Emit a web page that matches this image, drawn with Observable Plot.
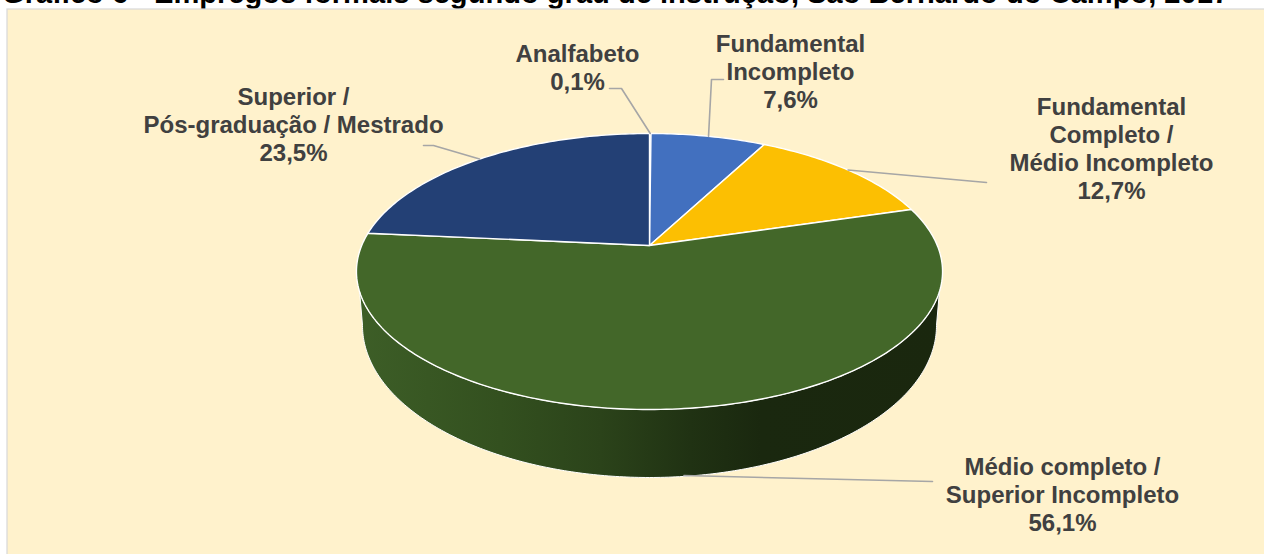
<!DOCTYPE html>
<html lang="pt">
<head>
<meta charset="utf-8">
<script src="https://cdn.jsdelivr.net/npm/d3@7"></script>
<script src="https://cdn.jsdelivr.net/npm/@observablehq/plot@0.6"></script>
<style>html,body{margin:0;padding:0;background:#fff}svg{display:block}</style>
</head>
<body>
<div id="chart"></div>
<script>
// ---- data ----
const titleText = "Gráfico 6 - Empregos formais segundo grau de instrução, São Bernardo do Campo, 2017";
const categories = ["Analfabeto", "Fundamental\nIncompleto", "Fundamental\nCompleto /\nMédio Incompleto", "Médio completo /\nSuperior Incompleto", "Superior /\nPós-graduação / Mestrado"];
const shares = [0.1, 7.6, 12.7, 56.1, 23.5];
const sliceColors = ["#4472c4", "#4270bf", "#fcbf02", "#436729", "#234075"];
// ---- label layout (px space of the x/y scales) ----
const labelX = [577, 790, 1111, 1062, 293];
const labelY = [67, 71, 148, 494, 124];
const leaderElbows = [
  [[621, 88], [609, 88]],
  [[711, 79], [723, 79]],
  [[975, 181], [986, 182]],
  [[932, 481]],
  [[433, 145], [423, 145]]
];

const W = 1264, H = 554;
// perspective projection of the pie disc
const cx = 649, apexY = 245, A = 287.8, B = 133.1, K = 0.1885;
const project = (theta) => {
  const X = Math.sin(theta), Y = Math.cos(theta), w = 1 + K * Y;
  return [cx + A * X / w, apexY - B * Y / w];
};
const total = d3.sum(shares);
let running = 0;
const slices = shares.map((v, i) => {
  const a0 = running / total * 2 * Math.PI;
  running += v;
  const a1 = running / total * 2 * Math.PI;
  return {i, a0, a1, mid: (a0 + a1) / 2, value: v};
});
const slicePoints = slices.flatMap((s) => {
  const n = Math.max(2, Math.ceil((s.a1 - s.a0) * 60));
  const pts = [{i: s.i, p: [cx, apexY]}];
  for (let k = 0; k <= n; ++k) pts.push({i: s.i, p: project(s.a0 + (s.a1 - s.a0) * k / n)});
  pts.push({i: s.i, p: [cx, apexY]});
  return pts;
});

// side wall: front of the upper rim, back along the lower rim
const topRim = {cy: 271, rx: 293, ry: 138};
const lowRim = {cy: 325, rx: 287, ry: 152};
const depthFront = 68;
const sidePts = [];
const t0 = Math.asin(20 / topRim.ry);
for (let k = 0; k <= 240; ++k) {
  const t = t0 + (Math.PI - 2 * t0) * k / 240;
  sidePts.push([cx + topRim.rx * Math.cos(t), topRim.cy + topRim.ry * Math.sin(t)]);
}
for (let k = 0; k <= 240; ++k) {
  const t = Math.PI * (1 - k / 240);
  sidePts.push([cx + lowRim.rx * Math.cos(t), lowRim.cy + lowRim.ry * Math.sin(t)]);
}
sidePts.push(sidePts[0]);

// leaders start on the mid-angle of each slice
const leaders = slices.flatMap((s, i) => {
  const start = project(s.mid);
  const frontWall = Math.cos(s.mid) < -0.5;
  if (frontWall) start[1] += depthFront - 1;
  return [start, ...leaderElbows[i]].map((p) => ({i, p}));
});

const fmt = (v) => v.toFixed(1).replace(".", ",") + "%";
const labels = categories.map((c, i) => ({x: labelX[i], y: labelY[i], text: `${c}\n${fmt(shares[i])}`}));

const gradStops = [[356, "#3d5e27"], [500, "#33501f"], [600, "#2b431a"], [690, "#203213"], [760, "#1a280f"], [942, "#1a270e"]];
const defs = () => {
  const d = d3.create("svg:defs");
  const g = d.append("linearGradient").attr("id", "sideGrad").attr("gradientUnits", "userSpaceOnUse")
    .attr("x1", 356).attr("x2", 942).attr("y1", 0).attr("y2", 0);
  gradStops.forEach(([x, c]) => g.append("stop").attr("offset", (x - 356) / 586).attr("stop-color", c));
  return d.node();
};

const fx = (d) => d.p[0], fy = (d) => d.p[1];
const chart = Plot.plot({
  width: W, height: H, margin: 0,
  x: {domain: [0, W], range: [0, W], axis: null},
  y: {domain: [0, H], range: [0, H], axis: null},
  style: {background: "#fff", fontFamily: "'Liberation Sans', Arial, sans-serif"},
  marks: [
    defs,
    Plot.text([titleText], {x: 1.5, y: 2, text: (d) => d, textAnchor: "start", lineAnchor: "bottom", fontSize: 29.1, fontWeight: 700, fill: "#000"}),
    Plot.rect([0], {x1: 7, x2: W + 4, y1: 9, y2: H + 4, fill: "#fff2cc", stroke: "#d9d9d9", strokeWidth: 1.25}),
    Plot.line(sidePts, {x: (d) => d[0], y: (d) => d[1], fill: "url(#sideGrad)", stroke: "#fff", strokeWidth: 1, curve: "linear"}),
    ...slices.map((s) => Plot.line(slicePoints.filter((d) => d.i === s.i), {x: fx, y: fy, fill: sliceColors[s.i], stroke: "#fff", strokeWidth: 1.4, strokeLinejoin: "round", curve: "linear"})),
    Plot.line(leaders, {x: fx, y: fy, z: "i", stroke: "#a6a6a6", strokeWidth: 1.6, fill: "none", curve: "linear"}),
    Plot.text(labels, {x: "x", y: "y", text: "text", textAnchor: "middle", lineAnchor: "middle", lineHeight: 1.167, fontSize: 24, fontWeight: 700, fill: "#404040"})
  ]
});
document.getElementById("chart").appendChild(chart);
</script>
</body>
</html>
